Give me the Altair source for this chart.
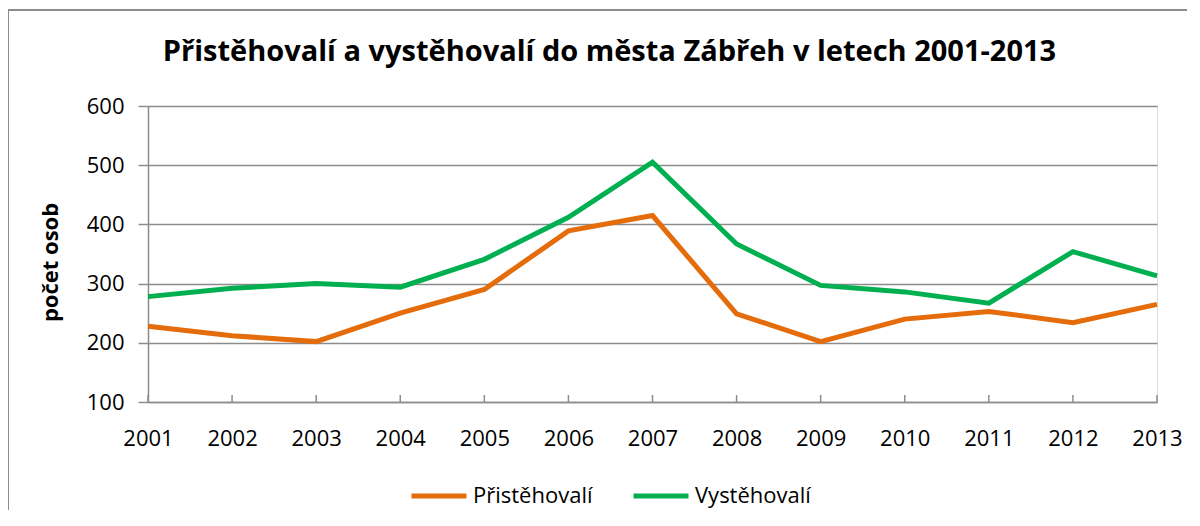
import altair as alt
import pandas as pd

years = list(range(2001, 2014))
pristehovali = [228, 212, 202, 250, 290, 389, 415, 249, 202, 240, 253, 234, 265]
vystehovali = [278, 292, 300, 294, 341, 412, 505, 367, 297, 286, 267, 354, 313]
series_names = ["Přistěhovalí", "Vystěhovalí"]
series_colors = ["#E46C0A", "#00B050"]
y_ticks = [100, 200, 300, 400, 500, 600]

rows = []
for i, yr in enumerate(years):
    rows.append({"rok": yr, "serie": series_names[0], "hodnota": pristehovali[i]})
    rows.append({"rok": yr, "serie": series_names[1], "hodnota": vystehovali[i]})
df = pd.DataFrame(rows)
df_years = pd.DataFrame({"rok": years})

FONT = "Open Sans"
GRID = "#8C8C8C"

x_scale = alt.Scale(domain=[2001, 2013], nice=False)
y_scale = alt.Scale(domain=[100, 600], nice=False)

lines = alt.Chart(df).mark_line(strokeWidth=5, strokeJoin="miter").encode(
    x=alt.X("rok:Q", scale=x_scale,
            axis=alt.Axis(values=years, format="d", grid=False, tickSize=0,
                          labelPadding=26, labelFontSize=22, labelFont=FONT,
                          labelColor="#000000", domainColor=GRID, domainWidth=1.5,
                          title=None, labelFlush=False)),
    y=alt.Y("hodnota:Q", scale=y_scale,
            axis=alt.Axis(values=y_ticks, grid=True, gridColor=GRID, gridWidth=1.5,
                          tickSize=10, tickColor=GRID, tickWidth=1.5,
                          domainColor=GRID, domainWidth=1.5,
                          labelPadding=14, labelFontSize=22, labelFont=FONT,
                          labelColor="#000000",
                          title="počet osob", titleFont=FONT, titleFontSize=22,
                          titleFontWeight="bold", titleColor="#000000",
                          titleX=-98, titleY=156, titleAngle=-90,
                          titleBaseline="middle", titleAlign="center")),
    color=alt.Color("serie:N",
                    scale=alt.Scale(domain=series_names, range=series_colors),
                    legend=alt.Legend(title=None, orient="none", direction="horizontal",
                                      legendX=261, legendY=360,
                                      symbolType="stroke", symbolStrokeWidth=5,
                                      symbolSize=3025, labelFontSize=22,
                                      labelFont=FONT, labelColor="#000000",
                                      labelOffset=4, columnPadding=30)),
)

xticks = alt.Chart(df_years).mark_rule(color=GRID, strokeWidth=1.5).encode(
    x=alt.X("rok:Q", scale=x_scale),
    y=alt.value(289),
    y2=alt.value(296),
)

border = alt.Chart(df_years).mark_rect(fill=None, stroke="#8C8C8C", strokeWidth=1.5).encode(
    x=alt.value(-140), x2=alt.value(1100), y=alt.value(-96), y2=alt.value(450)
)

chart = alt.layer(border, lines, xticks).properties(
    width=1009,
    height=296,
    title=alt.TitleParams(
        "Přistěhovalí a vystěhovalí do města Zábřeh v letech 2001-2013",
        font=FONT, fontSize=29, fontWeight="bold", color="#000000",
        anchor="middle", dx=-43, offset=-81, baseline="alphabetic",
    ),
    autosize=alt.AutoSizeParams(type="none"),
    padding={"left": 140, "top": 98, "right": 30, "bottom": 108},
).configure_view(stroke=None).configure(background="white")

chart.save("out.html", embed_options={"renderer": "svg", "actions": False})
